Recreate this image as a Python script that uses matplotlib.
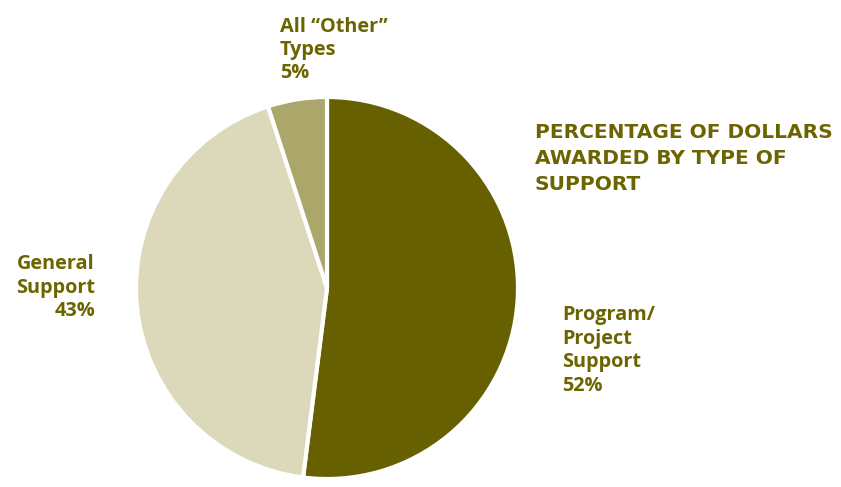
import matplotlib
matplotlib.use("Agg")
import matplotlib.pyplot as plt

categories = ["Program/\nProject\nSupport", "General\nSupport", "All \u201cOther\u201d\nTypes"]
values = [52, 43, 5]
colors = ["#666000", "#dcd9bb", "#aba66a"]
title = "PERCENTAGE OF DOLLARS\nAWARDED BY TYPE OF\nSUPPORT"
text_color = "#6b6400"

W, H = 841, 487
fig = plt.figure(figsize=(W / 100, H / 100), dpi=100)
plt.rcParams['font.family'] = ['Open Sans', 'DejaVu Sans']

cx, cy, r = 327, 288, 191
ax = fig.add_axes([(cx - r) / W, (H - cy - r) / H, 2 * r / W, 2 * r / H])
ax.pie(values, colors=colors, startangle=90, counterclock=False, radius=1,
       wedgeprops=dict(edgecolor="white", linewidth=3))
ax.set_xlim(-1, 1)
ax.set_ylim(-1, 1)
ax.set_aspect("equal")
ax.axis("off")

def put_lines(lines, x, y0, dy, ha, size, family=None):
    for i, ln in enumerate(lines):
        kw = {"family": family} if family else {}
        fig.text(x / W, 1 - (y0 + i * dy) / H, ln, ha=ha, va="center",
                 fontsize=size, fontweight="bold", color=text_color, **kw)

labels = [c.split("\n") + [f"{v}%"] for c, v in zip(categories, values)]
put_lines(labels[0], 562, 315, 23.7, "left", 14.3)
put_lines(labels[1], 95, 264, 23.5, "right", 14.3)
put_lines(labels[2], 280, 27, 23, "left", 14.3)
put_lines(title.split("\n"), 535, 132, 26, "left", 14.5, family=["DejaVu Sans"])

fig.savefig("out.png", dpi=100)
